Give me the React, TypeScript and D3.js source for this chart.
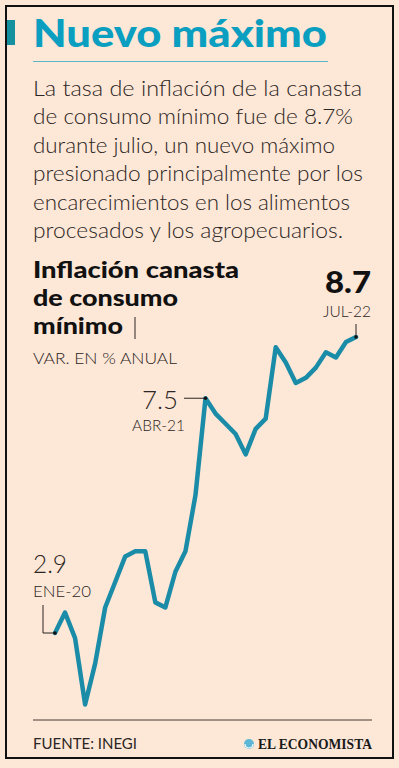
import React from 'react';
import * as d3 from 'd3';

// monthly values, ENE-20 .. JUL-22
const months = [
  'ENE-20', 'FEB-20', 'MAR-20', 'ABR-20', 'MAY-20', 'JUN-20', 'JUL-20', 'AGO-20', 'SEP-20', 'OCT-20', 'NOV-20', 'DIC-20',
  'ENE-21', 'FEB-21', 'MAR-21', 'ABR-21', 'MAY-21', 'JUN-21', 'JUL-21', 'AGO-21', 'SEP-21', 'OCT-21', 'NOV-21', 'DIC-21',
  'ENE-22', 'FEB-22', 'MAR-22', 'ABR-22', 'MAY-22', 'JUN-22', 'JUL-22',
];
const values = [
  2.9, 3.3, 2.8, 1.5, 2.3, 3.4, 3.9, 4.4, 4.5, 4.5, 3.5, 3.4,
  4.1, 4.5, 5.6, 7.5, 7.2, 7.0, 6.8, 6.4, 6.9, 7.1, 8.5, 8.2,
  7.8, 7.9, 8.1, 8.4, 8.3, 8.6, 8.7,
];
const paragraph = [
  'La tasa de inflación de la canasta',
  'de consumo mínimo fue de 8.7%',
  'durante julio, un nuevo máximo',
  'presionado principalmente por los',
  'encarecimientos en los alimentos',
  'procesados y los agropecuarios.',
];
const paragraphWidths = [329, 320, 302, 330, 317, 310];
const chartTitle = ['Inflación canasta', 'de consumo', 'mínimo'];
const chartTitleWidths = [206, 145, 90];

const BG = '#fde7d7';
const TEAL = '#1a8ca8';
const INK = '#2b2523';
const LIGHT = "'Lato', 'Open Sans', sans-serif";
const HEAVY = "'Lato', 'DejaVu Sans', sans-serif";

export default function App() {
  const width = 399;
  const height = 768;

  const x = d3.scalePoint<number>()
    .domain(d3.range(values.length))
    .range([55, 356]);
  const y = d3.scaleLinear()
    .domain([2.9, 8.7])
    .range([633, 337]);

  const line = d3.line<number>()
    .x((_, i) => x(i) as number)
    .y(d => y(d))
    .curve(d3.curveLinear);

  const iFirst = 0;
  const iApr = months.indexOf('ABR-21');
  const iLast = values.length - 1;
  const px = (i: number) => x(i) as number;
  const small = { fontFamily: LIGHT, fontWeight: 300, fontSize: 16, fill: INK, lengthAdjust: 'spacingAndGlyphs' } as const;

  return (
    <svg width={width} height={height} style={{ display: 'block', position: 'absolute', left: 0, top: 0 }}>
      <rect x={0} y={0} width={width} height={height} fill={BG} />
      <rect x={6} y={6} width={387} height={752} fill="none" stroke="#111" strokeWidth={2} />

      {/* header */}
      <rect x={7} y={20} width={8} height={25} fill="#15909f" />
      <text x={33} y={47} fontFamily={HEAVY} fontWeight={900} fontSize={37} fill="#0a9ec0"
        textLength={294} lengthAdjust="spacingAndGlyphs">Nuevo máximo</text>
      <line x1={33} x2={328} y1={61.5} y2={61.5} stroke="#5bb8c9" strokeWidth={1} />

      {paragraph.map((t, i) => (
        <text key={i} x={33} y={96 + i * 28.4} fontFamily={LIGHT} fontWeight={300} fontSize={21} fill={INK}
          textLength={paragraphWidths[i]} lengthAdjust="spacingAndGlyphs">{t}</text>
      ))}

      {/* chart title */}
      {chartTitle.map((t, i) => (
        <text key={i} x={33} y={278 + i * 28} fontFamily={HEAVY} fontWeight={900} fontSize={23} fill="#111"
          textLength={chartTitleWidths[i]} lengthAdjust="spacingAndGlyphs">{t}</text>
      ))}
      <line x1={135} x2={135} y1={317} y2={339} stroke={INK} strokeWidth={1} />
      <text x={33} y={364} {...small} textLength={144}>VAR. EN % ANUAL</text>

      {/* series */}
      <path d={line(values) ?? ''} fill="none" stroke={TEAL} strokeWidth={4.5} strokeLinejoin="round" strokeLinecap="round" />

      {/* ENE-20 annotation */}
      <text x={33} y={573} fontFamily={LIGHT} fontWeight={300} fontSize={25} fill={INK}
        textLength={34} lengthAdjust="spacingAndGlyphs">{values[iFirst]}</text>
      <text x={33} y={597} {...small} textLength={58}>{months[iFirst]}</text>
      <polyline points={`43,605 43,${y(values[iFirst])} ${px(iFirst)},${y(values[iFirst])}`} fill="none" stroke={INK} strokeWidth={1} />
      <circle cx={px(iFirst)} cy={y(values[iFirst])} r={1.8} fill="#111" />

      {/* ABR-21 annotation */}
      <text x={142} y={409} fontFamily={LIGHT} fontWeight={300} fontSize={25} fill={INK}
        textLength={36} lengthAdjust="spacingAndGlyphs">{values[iApr]}</text>
      <text x={132} y={431} {...small} textLength={53}>{months[iApr]}</text>
      <line x1={184} x2={px(iApr)} y1={y(values[iApr])} y2={y(values[iApr])} stroke={INK} strokeWidth={1} />
      <circle cx={px(iApr)} cy={y(values[iApr])} r={1.8} fill="#111" />

      {/* JUL-22 annotation */}
      <text x={325} y={293} fontFamily={HEAVY} fontWeight={900} fontSize={31} fill="#111"
        textLength={46} lengthAdjust="spacingAndGlyphs">{values[iLast]}</text>
      <text x={323} y={317} {...small} textLength={48}>{months[iLast]}</text>
      <line x1={px(iLast)} x2={px(iLast)} y1={324} y2={y(values[iLast])} stroke={INK} strokeWidth={1} />
      <circle cx={px(iLast)} cy={y(values[iLast])} r={1.8} fill="#111" />

      {/* footer */}
      <line x1={33} x2={372} y1={720} y2={720} stroke="#4a3a34" strokeWidth={1} />
      <text x={33} y={749} {...small} fontWeight={400} textLength={104}>FUENTE: INEGI</text>
      <circle cx={249} cy={744} r={5} fill="#5bb7d5" />
      <path d="M245,744 a4,4 0 0,0 8,0" fill="none" stroke="#fff" strokeWidth={1.2} />
      <text x={372} y={749} textAnchor="end" fontFamily="'Liberation Serif', 'DejaVu Serif', serif" fontWeight={700}
        fontSize={15} fill="#1a1a1a" textLength={114} lengthAdjust="spacingAndGlyphs">EL ECONOMISTA</text>
    </svg>
  );
}
